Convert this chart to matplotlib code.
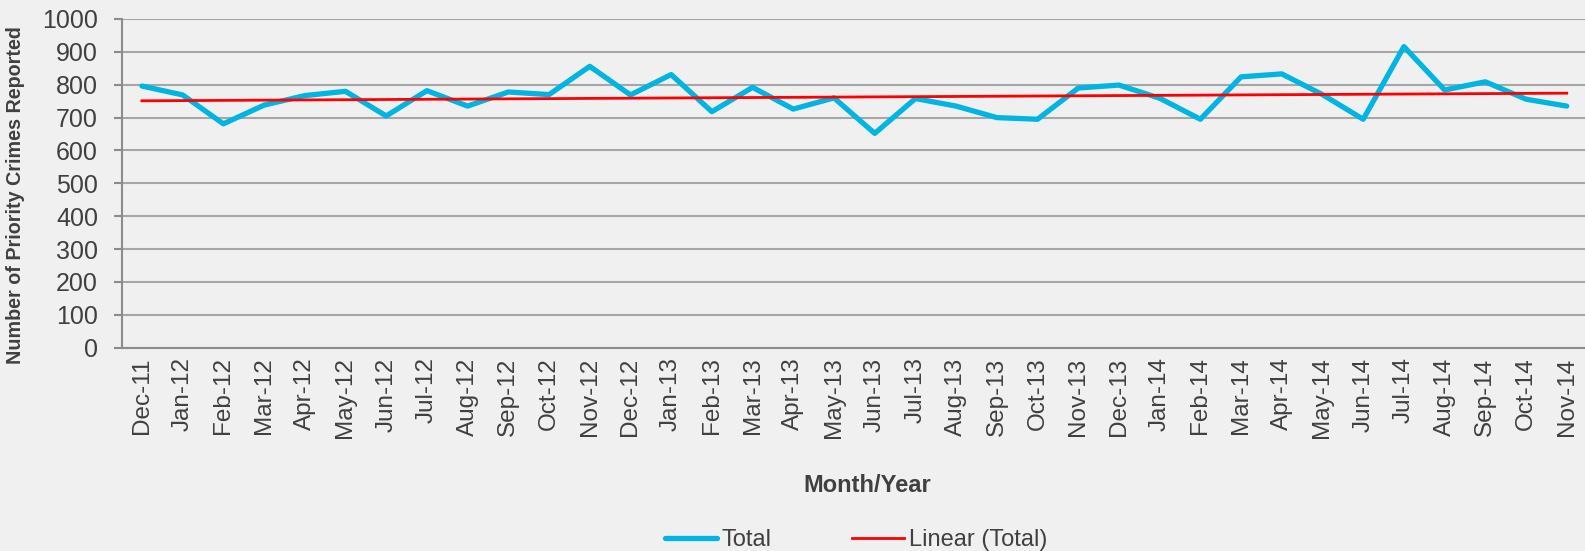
import numpy as np
import matplotlib
matplotlib.use('Agg')
import matplotlib.pyplot as plt

plt.rcParams['font.family'] = ['Liberation Sans', 'DejaVu Sans']

# monthly totals, Dec-11 .. Nov-14
months = ['Dec-11', 'Jan-12', 'Feb-12', 'Mar-12', 'Apr-12', 'May-12', 'Jun-12',
          'Jul-12', 'Aug-12', 'Sep-12', 'Oct-12', 'Nov-12', 'Dec-12', 'Jan-13',
          'Feb-13', 'Mar-13', 'Apr-13', 'May-13', 'Jun-13', 'Jul-13', 'Aug-13',
          'Sep-13', 'Oct-13', 'Nov-13', 'Dec-13', 'Jan-14', 'Feb-14', 'Mar-14',
          'Apr-14', 'May-14', 'Jun-14', 'Jul-14', 'Aug-14', 'Sep-14', 'Oct-14',
          'Nov-14']
totals = [796, 769, 681, 738, 767, 780, 705, 782, 735, 778, 770, 856, 769,
          831, 718, 792, 726, 760, 652, 758, 735, 700, 695, 790, 799, 759,
          695, 824, 833, 770, 695, 916, 784, 809, 756, 735]
y_ticks = [0, 100, 200, 300, 400, 500, 600, 700, 800, 900, 1000]

bg = '#f0f0f0'
text_col = '#404040'

x = np.arange(len(months))
slope, icpt = np.polyfit(x, totals, 1)
trend = slope * x + icpt

fig = plt.figure(figsize=(15.85, 5.51), dpi=100, facecolor=bg)
ax = fig.add_axes([121.6 / 1585, 1 - 347.7 / 551, 1465.5 / 1585, 328.7 / 551])
ax.set_facecolor(bg)

ax.plot(x, totals, color='#00B5E2', linewidth=3.8, label='Total',
        solid_joinstyle='round', solid_capstyle='round', zorder=3)
ax.plot(x, trend, color='#FF0000', linewidth=2.0, label='Linear (Total)', zorder=4)

ax.set_xlim(-0.5, len(months) - 0.5)
ax.set_ylim(0, 1000)
ax.set_yticks(y_ticks)
ax.set_xticks(x)
ax.set_xticklabels(months, rotation=90)

ax.grid(axis='y', color='#a6a6a6', linewidth=1.5, zorder=1)
ax.set_axisbelow(True)
for side in ['top', 'right']:
    ax.spines[side].set_visible(False)
for side in ['left', 'bottom']:
    ax.spines[side].set_color('#8c8c8c')
    ax.spines[side].set_linewidth(1.5)

ax.tick_params(axis='y', colors='#8c8c8c', length=6, width=1.5, pad=11,
               labelsize=18, labelcolor=text_col)
ax.tick_params(axis='x', length=0, pad=7, labelsize=17.5, labelcolor=text_col)

fig.text(16 / 1585, 1 - 195 / 551, 'Number of Priority Crimes Reported',
         rotation=90, ha='center', va='center', fontsize=14.2, weight='bold',
         color=text_col)
fig.text(867 / 1585, 1 - 486 / 551, 'Month/Year', ha='center', va='center',
         fontsize=17, weight='bold', color=text_col)

leg = fig.legend(loc='center', bbox_to_anchor=(856 / 1585, 1 - 540 / 551),
                 ncol=2, frameon=False, fontsize=17, handlelength=2.2,
                 handletextpad=0.2, columnspacing=3.4, labelcolor=text_col)

fig.savefig('out.png', dpi=100, facecolor=bg)
